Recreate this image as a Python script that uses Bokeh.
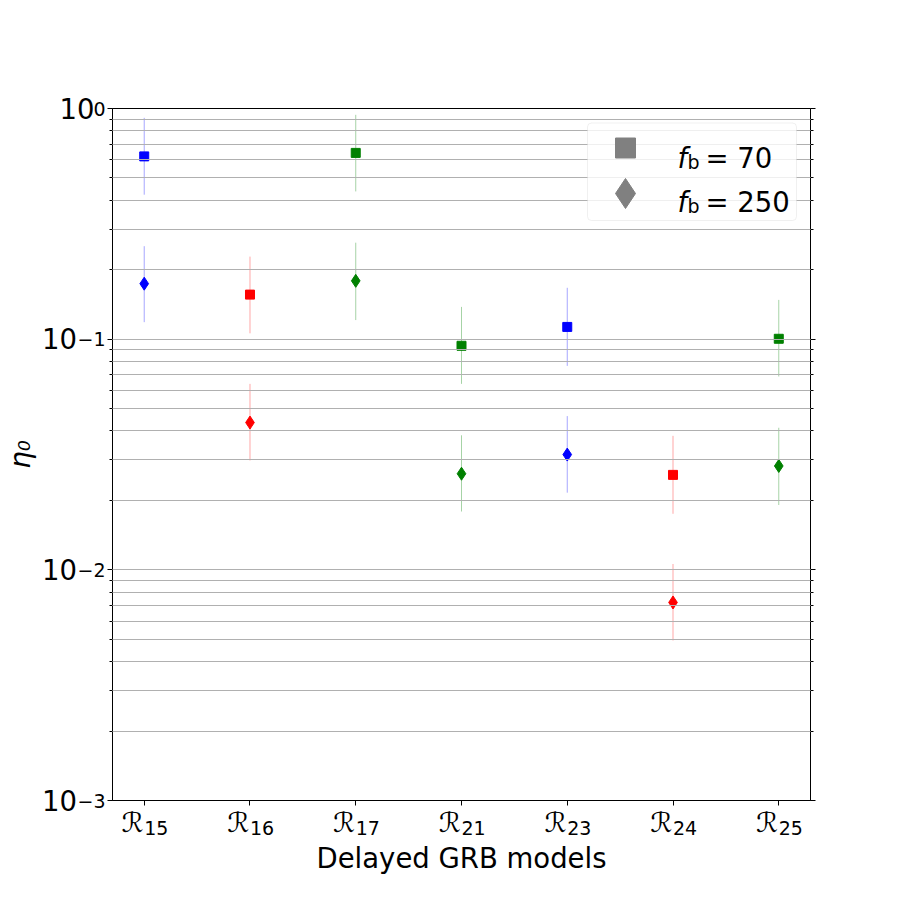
import math
from bokeh.plotting import figure
from bokeh.models import (FixedTicker, CustomJSTickFormatter, LogAxis, LinearAxis, BoxAnnotation,
                          Label, Range1d, ColumnDataSource)
from bokeh.embed import file_html
from bokeh.resources import INLINE

# ---------------- data ----------------
model_ids = ["15", "16", "17", "21", "23", "24", "25"]
colors = ["blue", "red", "green", "green", "blue", "red", "green"]

# f_b = 70 (squares)
sq_val = [0.620, 0.156, 0.642, 0.0936, 0.113, 0.0258, 0.1004]
sq_hi = [0.911, 0.228, 0.939, 0.138, 0.167, 0.0381, 0.148]
sq_lo = [0.423, 0.106, 0.437, 0.064, 0.0766, 0.0175, 0.0689]

# f_b = 250 (diamonds)
di_val = [0.174, 0.0435, 0.179, 0.0261, 0.0316, 0.00722, 0.0282]
di_hi = [0.253, 0.064, 0.262, 0.0383, 0.0464, 0.0106, 0.0413]
di_lo = [0.1185, 0.0298, 0.121, 0.0179, 0.0216, 0.00494, 0.0191]

legend_values = ["70", "250"]

y_tick_vals = [0.001, 0.01, 0.1, 1.0]
y_tick_exps = ["−3", "−2", "−1", "0"]

# ---------------- layout ----------------
FONT = "DejaVu Sans"
FS = "27.5px"
FS_SMALL = "19px"
X0, X1 = -0.3, 6.3
Y0, Y1 = 1e-3, 1.0
FL, FT, FW, FH = 112, 108, 698, 692  # frame in page pixels


def dx(px):
    return X0 + (px - FL) / FW * (X1 - X0)


def dy(py):
    l0, l1 = math.log10(Y0), math.log10(Y1)
    return 10 ** (l1 - (py - FT) / FH * (l1 - l0))


xs = list(range(len(model_ids)))

p = figure(frame_width=FW, frame_height=FH,
           min_border_left=FL, min_border_top=FT, min_border_right=82, min_border_bottom=92,
           x_range=Range1d(X0, X1), y_range=Range1d(Y0, Y1), y_axis_type="log",
           output_backend="svg", toolbar_location=None)
p.background_fill_color = "white"
p.border_fill_color = "white"
p.outline_line_color = "black"
p.outline_line_width = 1

blank = CustomJSTickFormatter(code="return '';")

# ---- y axis: ticks (at frame), superscript exponents, then "10" ----
minors = [m * 10 ** e for e in (-3, -2, -1) for m in range(2, 10)]
yt = FixedTicker(ticks=y_tick_vals, minor_ticks=minors)
exp_fmt = CustomJSTickFormatter(args=dict(vals=y_tick_vals, labs=y_tick_exps), code="""
for (let i = 0; i < vals.length; i++) {
  if (Math.abs(Math.log10(vals[i]) - Math.log10(tick)) < 1e-6) return labs[i];
}
return "";
""")
ten_fmt = CustomJSTickFormatter(args=dict(vals=y_tick_vals, labs=y_tick_exps), code="""
for (let i = 0; i < vals.length; i++) {
  if (Math.abs(Math.log10(vals[i]) - Math.log10(tick)) < 1e-6)
    return labs[i].startsWith("−") ? "10\u2007" : "10";
}
return "";
""")
ya = p.yaxis[0]
ya.ticker = yt
ya.formatter = blank
ya.major_tick_out = 5
ya.major_tick_in = 0
ya.minor_tick_out = 3
ya.minor_tick_in = 0
ya.major_label_standoff = 0
ya.axis_line_color = "black"

ya_exp = LogAxis(ticker=yt, formatter=exp_fmt,
                 major_tick_line_color=None, minor_tick_line_color=None, axis_line_color=None,
                 major_tick_out=0, major_tick_in=0, minor_tick_out=0, minor_tick_in=0,
                 major_label_standoff=2, major_label_text_font=FONT,
                 major_label_text_font_size=FS_SMALL, major_label_text_color="black")
p.add_layout(ya_exp, "left")

ya_ten = LogAxis(ticker=yt, formatter=ten_fmt, major_tick_line_color=None, minor_tick_line_color=None,
                 axis_line_color=None, major_tick_out=0, major_tick_in=0, minor_tick_out=0,
                 minor_tick_in=0, major_label_standoff=-20,
                 major_label_text_font=FONT, major_label_text_font_size=FS,
                 major_label_text_color="black",
                 axis_label="η₀", axis_label_text_font=FONT, axis_label_text_font_size=FS,
                 axis_label_text_font_style="italic", axis_label_text_color="black",
                 axis_label_standoff=3)
p.add_layout(ya_ten, "left")

ra = LogAxis(ticker=yt, formatter=blank,
             major_tick_out=5, major_tick_in=0, minor_tick_out=3, minor_tick_in=0,
             major_label_standoff=0, axis_line_color="black")
p.add_layout(ra, "right")

# ---- x axis: ticks + "R" (near frame), subscripts below ----
r_fmt = CustomJSTickFormatter(args=dict(n=len(model_ids)), code="""
const i = Math.round(tick);
if (Math.abs(tick - i) < 1e-6 && i >= 0 && i < n) return "ℛ\u2007\u2009";
return "";
""")
sub_fmt = CustomJSTickFormatter(args=dict(labs=model_ids), code="""
const i = Math.round(tick);
if (Math.abs(tick - i) < 1e-6 && i >= 0 && i < labs.length) return "\u2007\u2007" + labs[i];
return "";
""")
xa = p.xaxis[0]
xa.ticker = FixedTicker(ticks=xs, minor_ticks=[])
xa.formatter = r_fmt
xa.major_tick_out = 5
xa.major_tick_in = 0
xa.minor_tick_line_color = None
xa.major_label_standoff = 0
xa.major_label_text_font = FONT
xa.major_label_text_font_size = FS
xa.major_label_text_color = "black"
xa.axis_line_color = "black"

xa2 = LinearAxis(ticker=FixedTicker(ticks=xs, minor_ticks=[]), formatter=sub_fmt,
                 major_tick_line_color=None, minor_tick_line_color=None, axis_line_color=None,
                 major_tick_out=0, major_tick_in=0, minor_tick_out=0, minor_tick_in=0,
                 major_label_standoff=-24,
                 major_label_text_font=FONT, major_label_text_font_size=FS_SMALL,
                 major_label_text_color="black",
                 axis_label="Delayed GRB models", axis_label_text_font=FONT,
                 axis_label_text_font_size=FS, axis_label_text_font_style="normal",
                 axis_label_text_color="black", axis_label_standoff=0)
p.add_layout(xa2, "below")

# grid
p.xgrid.visible = False
p.ygrid.ticker = FixedTicker(ticks=[0.01, 0.1], minor_ticks=minors)
p.ygrid.grid_line_color = "#b0b0b0"
p.ygrid.grid_line_width = 1
p.ygrid.minor_grid_line_color = "#b0b0b0"
p.ygrid.minor_grid_line_width = 1
p.ygrid.level = "guide"

# ---------------- data marks ----------------
src = ColumnDataSource(dict(x=xs, c=colors, sv=sq_val, sh=sq_hi, sl=sq_lo,
                            dv=di_val, dh=di_hi, dl=di_lo))
p.segment(x0="x", y0="sl", x1="x", y1="sh", line_color="c", line_alpha=0.35, line_width=1, source=src)
p.segment(x0="x", y0="dl", x1="x", y1="dh", line_color="c", line_alpha=0.35, line_width=1, source=src)
p.scatter(x="x", y="sv", marker="square", size=9, fill_color="c", line_color="c", line_width=1, source=src)
p.scatter(x="x", y="dv", marker="diamond", size=13, fill_color="c", line_color="c", line_width=1, source=src)

# ---------------- legend ----------------
box = BoxAnnotation(left=dx(587), right=dx(796), top=dy(122.5), bottom=dy(220),
                    fill_color="white", fill_alpha=0.8, line_color="#cccccc", line_width=1,
                    border_radius=4)
p.add_layout(box)
p.scatter(x=[dx(625)], y=[dy(147.5)], marker="square", size=20, color="gray", level="overlay")
p.scatter(x=[dx(625)], y=[dy(193)], marker="diamond", size=30, color="gray", level="overlay")

for val, base in zip(legend_values, [157, 201]):
    p.add_layout(Label(x=dx(677), y=dy(base), text="f", text_font=FONT, text_font_size=FS,
                       text_font_style="italic", text_baseline="alphabetic", level="overlay",
                       text_color="black"))
    p.add_layout(Label(x=dx(687), y=dy(base + 4), text="b", text_font=FONT, text_font_size=FS_SMALL,
                       text_baseline="alphabetic", level="overlay", text_color="black"))
    p.add_layout(Label(x=dx(705), y=dy(base), text="= " + val, text_font=FONT, text_font_size=FS,
                       text_baseline="alphabetic", level="overlay", text_color="black"))

open("out.html", "w").write(file_html(p, INLINE))
